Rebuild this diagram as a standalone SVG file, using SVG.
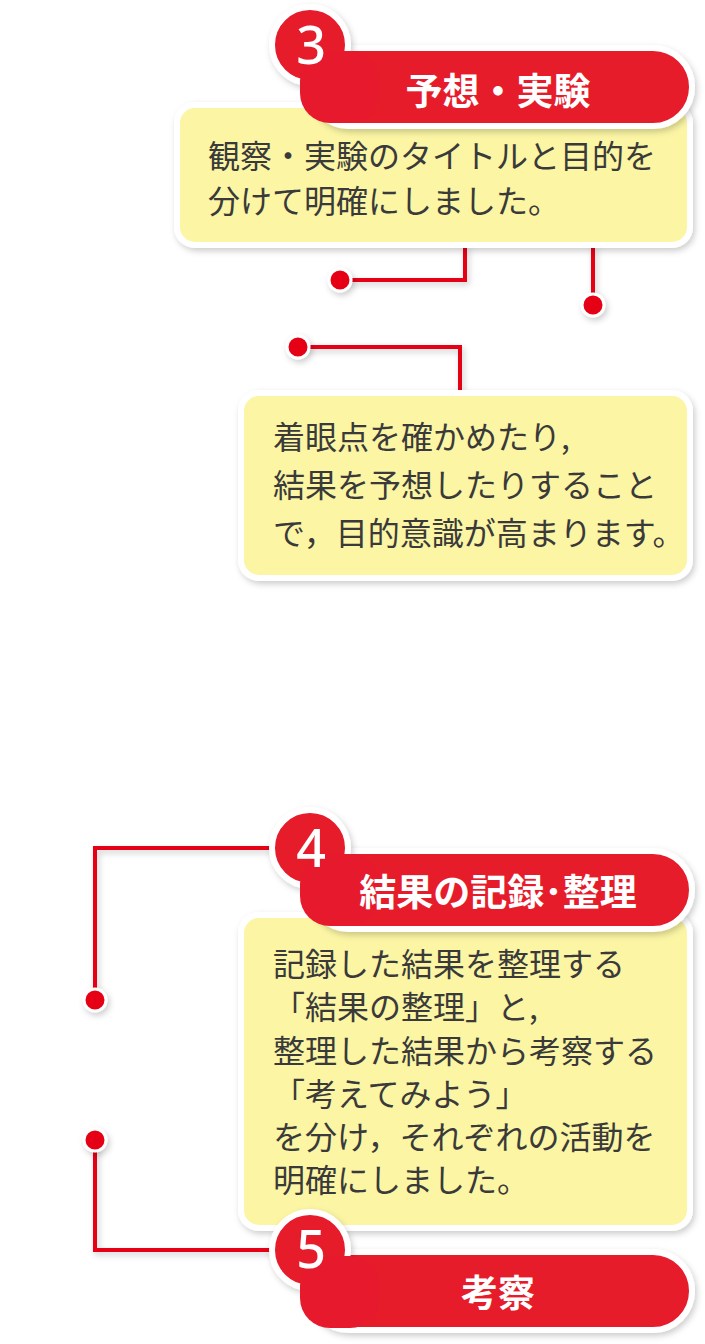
<svg xmlns="http://www.w3.org/2000/svg" width="705" height="1344" viewBox="0 0 705 1344">
<style>
.box{fill:#fbf5a4;stroke:#fff;stroke-width:6;filter:url(#sh)}
.pill{fill:#e61a2c;stroke:#fff;stroke-width:6;filter:url(#sh)}
.num{font-family:"Noto Sans",sans-serif;font-weight:500;font-size:52px;fill:#fff;text-anchor:middle}
.ttl{font-family:"Noto Sans CJK JP",sans-serif;font-weight:bold;font-size:37px;fill:#fff;text-anchor:middle}
.t{font-family:"Noto Sans CJK JP",sans-serif;font-size:32px;fill:#3a3a3a}
.ln{fill:none;stroke:#e60012;stroke-width:4;filter:url(#sh)}
.dot{fill:#e60012;stroke:#fff;stroke-width:3;filter:url(#sh)}
</style>
<defs><filter id="sh" filterUnits="userSpaceOnUse" x="0" y="0" width="705" height="1344"><feDropShadow dx="2" dy="3" stdDeviation="3" flood-color="#000" flood-opacity="0.2"/></filter></defs>
<g id="connectors">
<polyline class="ln" points="465,245 465,280 340,280"/>
<line class="ln" x1="593" y1="245" x2="593" y2="305"/>
<polyline class="ln" points="298,347 460,347 460,395"/>
<polyline class="ln" points="275,848 95,848 95,1000"/>
<polyline class="ln" points="95,1140 95,1250 275,1250"/>
<circle class="dot" cx="340" cy="280" r="11"/>
<circle class="dot" cx="593" cy="305" r="11"/>
<circle class="dot" cx="298" cy="347" r="11"/>
<circle class="dot" cx="95" cy="1000" r="11"/>
<circle class="dot" cx="95" cy="1140" r="11"/>
</g>
<g id="box3">
<rect class="box" x="177" y="105" width="513" height="140" rx="18"/>
<text class="t" x="208" y="168">観察・実験のタイトルと目的を</text>
<text class="t" x="208" y="213">分けて明確にしました。</text>
</g>
<g id="head3">
<rect class="pill" x="310" y="48" width="382" height="78" rx="39"/>
<circle class="pill" cx="310" cy="45" r="38"/>
<rect x="300" y="51" width="80" height="72" rx="30" fill="#e61a2c"/>
<text class="num" x="311" y="64">3</text>
<text class="ttl" x="498" y="105">予想・実験</text>
</g>
<g id="box3b">
<rect class="box" x="241" y="393" width="449" height="185" rx="18"/>
<text class="t" x="273" y="449">着眼点を確かめたり,</text>
<text class="t" x="273" y="497">結果を予想したりすること</text>
<text class="t" x="273" y="545">で，目的意識が高まります。</text>
</g>
<g id="box4">
<rect class="box" x="241" y="915" width="449" height="313" rx="18"/>
<text class="t" x="273" y="976">記録した結果を整理する</text>
<text class="t" x="273" y="1019">「結果の整理」と,</text>
<text class="t" x="273" y="1063">整理した結果から考察する</text>
<text class="t" x="273" y="1106">「考えてみよう」</text>
<text class="t" x="273" y="1149">を分け，それぞれの活動を</text>
<text class="t" x="273" y="1192">明確にしました。</text>
</g>
<g id="head4">
<rect class="pill" x="310" y="851" width="382" height="78" rx="39"/>
<circle class="pill" cx="310" cy="848" r="38"/>
<rect x="300" y="854" width="80" height="72" rx="30" fill="#e61a2c"/>
<text class="num" x="311" y="867">4</text>
<text class="ttl" x="498" y="906">結果の記録･整理</text>
</g>
<g id="head5">
<rect class="pill" x="310" y="1252" width="382" height="78" rx="39"/>
<circle class="pill" cx="310" cy="1250" r="38"/>
<rect x="300" y="1256" width="80" height="72" rx="30" fill="#e61a2c"/>
<text class="num" x="311" y="1268">5</text>
<text class="ttl" x="498" y="1307">考察</text>
</g>
</svg>
